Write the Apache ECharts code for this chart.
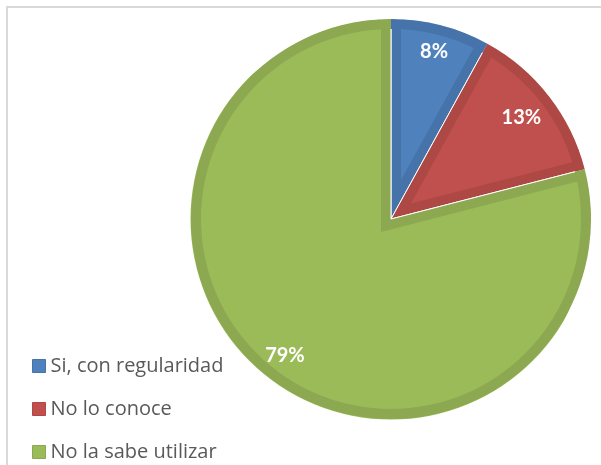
<!DOCTYPE html>
<html>
<head>
<meta charset="utf-8">
<script src="https://cdn.jsdelivr.net/npm/echarts@6/dist/echarts.min.js"></script>
<style>
  html, body { margin: 0; padding: 0; background: #fff; }
  #wrap { position: relative; width: 601px; height: 465px; overflow: hidden; }
  #chart { position: absolute; left: 0; top: 0; width: 601px; height: 465px; }
  #frame { position: absolute; left: 6px; top: 6px; width: 700px; height: 600px;
           border-left: 2px solid #d9d9d9; border-top: 2px solid #d9d9d9; pointer-events: none; }
</style>
</head>
<body>
<div id="wrap">
  <div id="chart"></div>
  <div id="frame"></div>
</div>
<script>
// datos del gráfico
const categories = ['Si, con regularidad', 'No lo conoce', 'No la sabe utilizar'];
const values = [8, 13, 79];
const fillColors = ['#4F81BD', '#C0504D', '#9BBB59'];
const edgeColors = ['#4674AA', '#AD4845', '#8CA850'];

// geometría del pastel (px)
const CX = 391, CY = 219, R = 200, EDGE = 10;
const FONT = 'Lato, "Liberation Sans", sans-serif';
const LEGEND_FONT = '"Open Sans", "Noto Sans", sans-serif';

const total = values.reduce((a, b) => a + b, 0);
const clear = 'rgba(0,0,0,0)';

// rellenos interiores: cada sector desplazado para dejar un borde interno de EDGE px
let acc = 0;
const innerSeries = values.map((v, i) => {
  const a0 = acc / total * 360;
  const span = v / total * 360;
  acc += v;
  const half = span / 2 * Math.PI / 180;
  const mid = (a0 + span / 2) * Math.PI / 180;
  const shift = EDGE / Math.sin(half);
  const cx = CX + shift * Math.sin(mid);
  const cy = CY - shift * Math.cos(mid);
  const r = Math.sqrt((R - EDGE) * (R - EDGE) - EDGE * EDGE) - EDGE / Math.tan(half) + 1;
  return {
    type: 'pie', silent: true, animation: false,
    center: [cx, cy], radius: r,
    startAngle: 90 - a0, clockwise: true,
    label: { show: false }, labelLine: { show: false },
    itemStyle: { borderWidth: 0 },
    data: [
      { name: categories[i], value: v, itemStyle: { color: fillColors[i] } },
      { name: '_resto', value: total - v, itemStyle: { color: clear } }
    ]
  };
});

const makeData = (colors) => categories.map((c, i) => ({
  name: c, value: values[i], itemStyle: { color: colors ? colors[i] : clear }
}));

const labelSeries = (radius, shown) => ({
  type: 'pie', silent: true, animation: false,
  center: [CX, CY], radius: radius,
  startAngle: 90, clockwise: true,
  itemStyle: { borderWidth: 0, color: clear },
  labelLine: { show: false },
  label: {
    show: true, position: 'inside', formatter: '{c}%',
    color: '#fff', fontSize: 20, fontWeight: 'bold', fontFamily: FONT,
    textBorderWidth: 0
  },
  data: categories.map((c, i) => ({
    name: c, value: values[i], itemStyle: { color: clear },
    label: { show: shown.indexOf(i) >= 0 }
  }))
});

const chart = echarts.init(document.getElementById('chart'), null, { renderer: 'canvas' });

const option = {
  animation: false,
  backgroundColor: '#fff',
  legend: {
    orient: 'vertical',
    left: 32,
    top: 356,
    width: 260,
    height: 110,
    padding: 0,
    itemWidth: 13,
    itemHeight: 13,
    itemGap: 23,
    selectedMode: false,
    icon: 'rect',
    textStyle: { fontSize: 20, lineHeight: 20, color: '#595959', fontFamily: LEGEND_FONT },
    data: categories.map((c, i) => ({
      name: c,
      itemStyle: { color: fillColors[i], borderColor: edgeColors[i], borderWidth: 1 }
    }))
  },
  series: [
    {
      type: 'pie', silent: true, animation: false,
      center: [CX, CY], radius: R,
      startAngle: 90, clockwise: true,
      label: { show: false }, labelLine: { show: false },
      itemStyle: { borderColor: '#fff', borderWidth: 1 },
      data: makeData(edgeColors)
    },
    ...innerSeries,
    {
      type: 'pie', silent: true, animation: false,
      center: [CX, CY], radius: [R - EDGE, R],
      startAngle: 90, clockwise: true,
      label: { show: false }, labelLine: { show: false },
      itemStyle: { borderWidth: 0 },
      data: makeData(edgeColors)
    },
    {
      type: 'pie', silent: true, animation: false,
      center: [CX, CY], radius: [R + 0.5, R + 26],
      label: { show: false }, labelLine: { show: false },
      itemStyle: { borderWidth: 0, color: '#fff' },
      data: [{ name: '_blanco', value: 1, itemStyle: { color: '#fff' } }]
    },
    labelSeries([140, 200], [0, 2]),
    labelSeries([124, 200], [1])
  ]
};

chart.setOption(option);
</script>
</body>
</html>
